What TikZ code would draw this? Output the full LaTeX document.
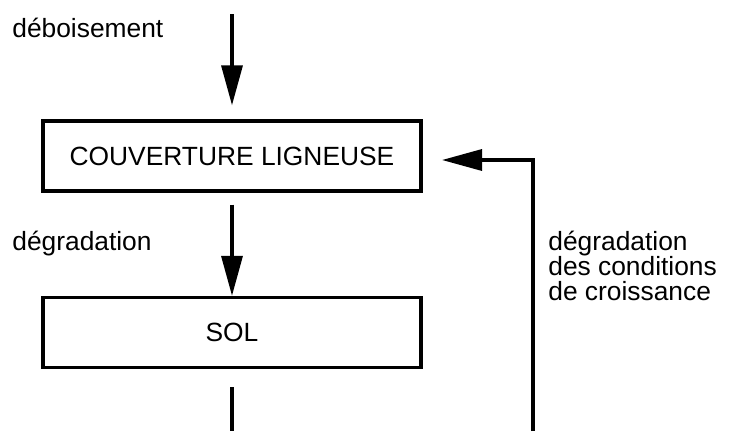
\documentclass[tikz,border=0pt]{standalone}
\usepackage{fontspec}
\setmainfont{Liberation Sans}
\usetikzlibrary{arrows.meta}

\tikzset{
  boite/.style={draw, line width=1.9pt, minimum width=7.56cm, minimum height=1.4cm, inner sep=0pt},
  fleche/.style={line width=1.9pt, -{Triangle[length=0.8cm,width=0.42cm]}},
  trait/.style={line width=1.9pt},
  etiquette/.style={inner sep=0pt, anchor=base west},
}

\begin{document}
\begin{tikzpicture}[font=\fontsize{15}{14.2}\selectfont]
\useasboundingbox (0,0) rectangle (14.58,8.62);

\node[boite] (couv) at (4.64,5.5) {COUVERTURE LIGNEUSE};
\node[boite] (sol) at (4.64,1.97) {SOL};

\coordinate (entree) at (4.64,8.34);
\coordinate (sortie) at (4.64,0);
\coordinate (retour) at (10.66,0);
\coordinate (coin) at (10.66,5.42);
\coordinate (pointe) at (8.84,5.42);

\draw[fleche] (entree) -- ([yshift=0.28cm]couv.north);
\draw[fleche] ([yshift=-0.24cm]couv.south) -- (sol.north);
\draw[trait] ([yshift=-0.36cm]sol.south) -- (sortie);
\draw[fleche] (retour) -- (coin) -- (pointe);

\node[etiquette] (deb) at (0.24,7.88) {déboisement};
\node[etiquette] (degr) at (0.24,3.62) {dégradation};
\node[inner sep=0pt, anchor=west, align=left] (cond) at (10.96,3.3)
  {dégradation\\des conditions\\de croissance};
\end{tikzpicture}
\end{document}
